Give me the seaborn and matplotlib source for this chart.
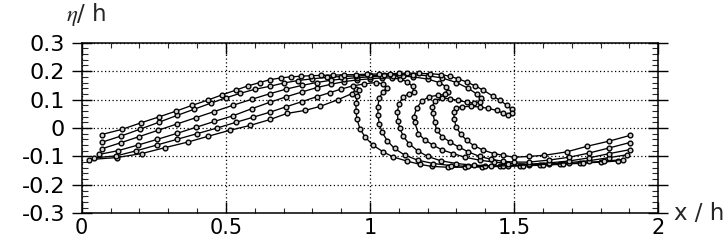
import pandas as pd
import matplotlib
matplotlib.use("Agg")
import matplotlib.pyplot as plt
import seaborn as sns
from matplotlib.ticker import MultipleLocator, FixedLocator, FixedFormatter

# ---- data: six surface profiles (x/h, eta/h) ----
xA = [0.026, 0.121, 0.208, 0.289, 0.370, 0.439, 0.514, 0.584, 0.654, 0.711, 0.775, 0.827, 0.890, 0.937, 0.952,
      0.963, 0.956, 0.951, 0.952, 0.954, 0.965, 0.983, 1.011, 1.046, 1.081, 1.127, 1.173, 1.214, 1.270, 1.330,
      1.390, 1.450, 1.520, 1.590, 1.660, 1.730, 1.800, 1.861]
yA = [-0.111, -0.104, -0.090, -0.069, -0.049, -0.029, -0.008, 0.009, 0.030, 0.051, 0.062, 0.076, 0.100, 0.121, 0.137,
      0.132, 0.112, 0.088, 0.060, 0.033, -0.002, -0.032, -0.061, -0.084, -0.102, -0.116, -0.128, -0.135, -0.138, -0.138,
      -0.137, -0.135, -0.133, -0.131, -0.128, -0.124, -0.120, -0.116]

xB = [0.044, 0.120, 0.190, 0.260, 0.330, 0.400, 0.470, 0.535, 0.595, 0.654, 0.710, 0.765, 0.815, 0.860, 0.900,
      0.940, 0.980, 1.020, 1.045, 1.058, 1.045, 1.032, 1.027, 1.028, 1.032, 1.042, 1.060, 1.085, 1.120, 1.165,
      1.220, 1.280, 1.340, 1.400, 1.460, 1.530, 1.600, 1.670, 1.740, 1.810, 1.879]
yB = [-0.105, -0.098, -0.080, -0.060, -0.040, -0.020, 0.000, 0.020, 0.038, 0.056, 0.075, 0.093, 0.110, 0.124, 0.137,
      0.148, 0.155, 0.160, 0.155, 0.140, 0.128, 0.105, 0.075, 0.045, 0.015, -0.015, -0.045, -0.072, -0.095, -0.113,
      -0.125, -0.132, -0.135, -0.135, -0.134, -0.132, -0.129, -0.126, -0.122, -0.117, -0.111]

xC = [0.060, 0.125, 0.195, 0.262, 0.330, 0.395, 0.460, 0.525, 0.590, 0.654, 0.710, 0.765, 0.815, 0.865, 0.910,
      0.955, 1.000, 1.040, 1.075, 1.105, 1.130, 1.148, 1.152, 1.135, 1.115, 1.100, 1.095, 1.097, 1.103, 1.115,
      1.135, 1.165, 1.200, 1.245, 1.300, 1.360, 1.420, 1.480, 1.550, 1.620, 1.690, 1.760, 1.830, 1.893]
yC = [-0.093, -0.080, -0.060, -0.040, -0.019, 0.002, 0.023, 0.043, 0.068, 0.091, 0.110, 0.127, 0.142, 0.154, 0.163,
      0.169, 0.173, 0.176, 0.176, 0.172, 0.162, 0.146, 0.128, 0.120, 0.110, 0.085, 0.055, 0.025, 0.000, -0.028,
      -0.055, -0.080, -0.100, -0.115, -0.125, -0.131, -0.133, -0.133, -0.130, -0.127, -0.122, -0.115, -0.104, -0.094]

xD = [0.070, 0.135, 0.200, 0.265, 0.330, 0.395, 0.460, 0.525, 0.590, 0.654, 0.710, 0.765, 0.815, 0.865, 0.910,
      0.955, 1.000, 1.040, 1.080, 1.115, 1.150, 1.200, 1.240, 1.265, 1.272, 1.260, 1.235, 1.205, 1.180, 1.162,
      1.152, 1.155, 1.168, 1.190, 1.220, 1.250, 1.289, 1.330, 1.380, 1.430, 1.480, 1.550, 1.620, 1.690, 1.760,
      1.830, 1.902]
yD = [-0.073, -0.052, -0.030, -0.008, 0.014, 0.036, 0.058, 0.080, 0.101, 0.121, 0.137, 0.150, 0.160, 0.168, 0.173,
      0.177, 0.180, 0.182, 0.183, 0.182, 0.180, 0.172, 0.160, 0.145, 0.128, 0.118, 0.115, 0.110, 0.095, 0.070,
      0.040, 0.020, -0.020, -0.042, -0.061, -0.077, -0.090, -0.103, -0.113, -0.120, -0.125, -0.127, -0.123, -0.116,
      -0.105, -0.090, -0.076]

xE = [0.070, 0.137, 0.203, 0.267, 0.330, 0.390, 0.447, 0.500, 0.550, 0.600, 0.654, 0.700, 0.750, 0.800, 0.850,
      0.900, 0.950, 1.000, 1.050, 1.100, 1.150, 1.200, 1.250, 1.300, 1.340, 1.370, 1.385, 1.380, 1.360, 1.335,
      1.306, 1.277, 1.249, 1.225, 1.215, 1.218, 1.225, 1.231, 1.250, 1.277, 1.310, 1.341, 1.380, 1.420, 1.460,
      1.500, 1.550, 1.620, 1.690, 1.760, 1.830, 1.902]
yE = [-0.050, -0.028, -0.004, 0.020, 0.044, 0.066, 0.087, 0.106, 0.122, 0.136, 0.147, 0.158, 0.167, 0.173, 0.178,
      0.181, 0.183, 0.185, 0.186, 0.187, 0.187, 0.184, 0.176, 0.160, 0.140, 0.120, 0.104, 0.092, 0.088, 0.091,
      0.097, 0.103, 0.105, 0.095, 0.075, 0.051, 0.020, -0.008, -0.030, -0.049, -0.068, -0.084, -0.100, -0.110, -0.117,
      -0.120, -0.120, -0.113, -0.103, -0.088, -0.070, -0.051]

xF = [0.069, 0.139, 0.205, 0.268, 0.326, 0.384, 0.437, 0.488, 0.534, 0.576, 0.618, 0.653, 0.690, 0.725, 0.760,
      0.795, 0.830, 0.870, 0.910, 0.950, 0.990, 1.030, 1.069, 1.100, 1.127, 1.170, 1.208, 1.245, 1.277, 1.305,
      1.335, 1.365, 1.393, 1.425, 1.451, 1.475, 1.491, 1.492, 1.480, 1.462, 1.439, 1.410, 1.380, 1.350, 1.320,
      1.300, 1.290, 1.293, 1.298, 1.315, 1.335, 1.360, 1.393, 1.430, 1.462, 1.499, 1.550, 1.605, 1.682, 1.754,
      1.830, 1.902]
yF = [-0.023, -0.005, 0.018, 0.039, 0.059, 0.080, 0.098, 0.117, 0.133, 0.148, 0.160, 0.170, 0.176, 0.180, 0.182,
      0.184, 0.185, 0.186, 0.187, 0.188, 0.189, 0.190, 0.191, 0.192, 0.193, 0.192, 0.191, 0.188, 0.182, 0.173,
      0.162, 0.148, 0.133, 0.113, 0.097, 0.080, 0.066, 0.054, 0.045, 0.052, 0.062, 0.069, 0.074, 0.076, 0.075,
      0.071, 0.055, 0.030, 0.004, -0.022, -0.043, -0.062, -0.078, -0.090, -0.096, -0.103, -0.100, -0.096, -0.084, -0.064,
      -0.046, -0.026]

profiles = ["A", "B", "C", "D", "E", "F"]
xs = [xA, xB, xC, xD, xE, xF]
ys = [yA, yB, yC, yD, yE, yF]

y_ticks = [-0.3, -0.2, -0.1, 0, 0.1, 0.2, 0.3]
y_tick_labels = ["-0.3", "-0.2", "-0.1", "0", "0.1", "0.2", "0.3"]
x_ticks = [0, 0.5, 1, 1.5, 2]
x_tick_labels = ["0", "0.5", "1", "1.5", "2"]

frames = []
for name, xv, yv in zip(profiles, xs, ys):
    frames.append(pd.DataFrame({"x": xv, "y": yv, "profile": name}))
df = pd.concat(frames, ignore_index=True)

sns.set_theme(style="white")
plt.rcParams["font.family"] = ["DejaVu Sans"]
plt.rcParams["axes.unicode_minus"] = False
plt.rcParams["mathtext.fontset"] = "stix"

fig = plt.figure(figsize=(7.28, 2.42), dpi=100)
ax = fig.add_axes([81.7 / 728, 1 - 213.3 / 242, (658.3 - 81.7) / 728, (213.3 - 42.7) / 242])

sns.lineplot(data=df, x="x", y="y", units="profile", estimator=None, sort=False,
             color="black", linewidth=0.95, marker="o", markersize=3.4,
             markerfacecolor="#d0d0d0", markeredgecolor="black", markeredgewidth=1.0,
             legend=False, ax=ax)

ax.set_xlim(0, 2)
ax.set_ylim(-0.3, 0.3)
ax.xaxis.set_major_locator(FixedLocator(x_ticks))
ax.xaxis.set_major_formatter(FixedFormatter(x_tick_labels))
ax.yaxis.set_major_locator(FixedLocator(y_ticks))
ax.yaxis.set_major_formatter(FixedFormatter(y_tick_labels))
ax.xaxis.set_minor_locator(MultipleLocator(0.1))
ax.yaxis.set_minor_locator(MultipleLocator(0.02))

ax.tick_params(axis="x", which="major", direction="in", length=8, width=1, top=True, bottom=True,
               labelsize=15, pad=3.5, colors="black")
ax.tick_params(axis="x", which="minor", direction="in", length=3.5, width=0.8, top=True, bottom=True)
ax.tick_params(axis="y", which="major", direction="inout", length=14, width=1, left=True, right=True,
               labelsize=16, pad=5, colors="black")
ax.tick_params(axis="y", which="minor", direction="in", length=4, width=0.8, left=True, right=True)

ax.grid(True, which="major", color="black", linestyle=(0, (1, 2)), linewidth=0.9)
for s in ax.spines.values():
    s.set_color("black")
    s.set_linewidth(1.1)
ax.set_xlabel("")
ax.set_ylabel("")

fig.text(66 / 728, 1 - 15 / 242, r"$\eta$/ h", fontsize=16.5, ha="left", va="center")
fig.text(674 / 728, 1 - 214 / 242, "x / h", fontsize=16.5, ha="left", va="center")

fig.savefig("out.png", dpi=100, facecolor="white")
